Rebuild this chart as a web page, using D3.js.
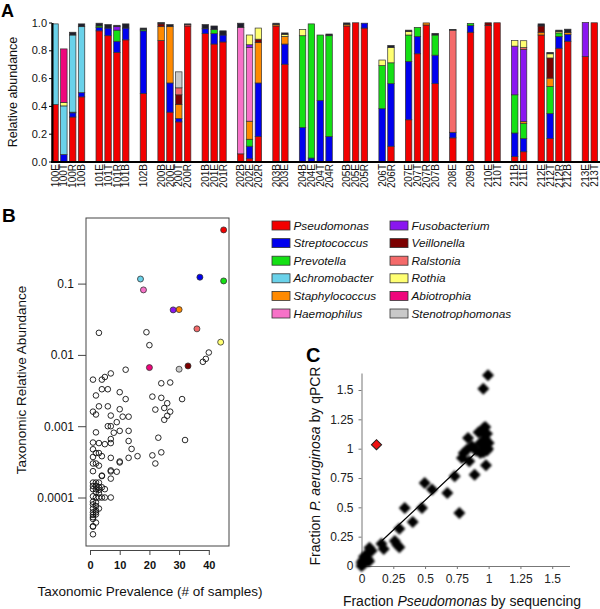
<!DOCTYPE html>
<html><head><meta charset="utf-8">
<script src="https://cdn.jsdelivr.net/npm/d3@7"></script>
<style>body{margin:0;background:#fff} svg{display:block;font-family:"Liberation Sans",Arial,Helvetica,sans-serif}</style>
</head><body><svg id="chart" width="600" height="609"></svg>
<script>
// ---------------- Panel A data ----------------
const samples = [
 "100E","100T","100R","100B", "101E","101T","101R","101B", "102B",
 "200B","200E","200T","200R", "201B","201E","201R", "202B","202E","202R",
 "203B","203E", "204B","204E","204T","204R", "205B","205E","205R", "206T","206R",
 "207E","207T","207R","207B", "208E", "209B", "210E","210T", "211B","211E",
 "212E","212T","212R","212B", "213E","213T"];
const taxa = ["Pseudomonas","Streptococcus","Prevotella","Achromobacter","Staphylococcus","Haemophilus",
 "Fusobacterium","Veillonella","Ralstonia","Rothia","Abiotrophia","Stenotrophomonas","Other"];
const taxonColors = ["#f20000","#0000ee","#14e014","#6ad2ea","#ff8a00","#f772c8",
 "#8a16f0","#7c0000","#f46a6a","#ffff72","#ef067c","#c9c9c9","#1e1e2c"];
const yTicksA = [0,0.2,0.4,0.6,0.8,1.0];
// values per sample (same order as samples), grouped by patient
const pseudomonas = [0.41,0,0.32,0.465, 0.94,0.905,0.785,0.875, 0.49, 0.87,0.355,0.285,0.975, 0.92,0.845,0.86, 0.055,0.02,0.18, 0.975,0.70, 0,0,0,0, 0.975,0.998,0.96, 0,0.11, 0.30,0.775,0.982,0.56, 0.17, 0.93, 0.978,0.998, 0.035,0.07, 0.91,0.165,0.815,0.865, 0.755,0.998];
const streptococcus = [0,0.05,0.03,0.03, 0.025,0.055,0.08,0.085, 0.45, 0,0.21,0.025,0, 0.035,0.075,0.05, 0,0.09,0.385, 0,0.145, 0.245,0.025,0.44,0.18, 0,0,0.035, 0.38,0.45, 0.42,0.125,0,0.205, 0.04, 0.048, 0,0, 0.17,0.095, 0,0.18,0.085,0.05, 0,0];
const prevotella = [0,0,0.005,0, 0.01,0,0.08,0, 0.01, 0,0,0,0, 0,0.03,0, 0,0.05,0, 0,0, 0.66,0.965,0.47,0.725, 0,0,0, 0.31,0.15, 0.19,0.065,0,0.145, 0, 0.015, 0,0, 0.275,0.11, 0,0.195,0.025,0, 0,0];
const achromobacter = [0.58,0.35,0.555,0.475, 0,0,0,0, 0, 0,0,0,0, 0,0,0, 0,0,0, 0,0, 0,0,0,0, 0,0,0, 0,0, 0,0,0,0, 0, 0, 0,0, 0,0, 0,0,0,0, 0,0];
const staphylococcus = [0,0,0,0, 0,0,0,0, 0, 0.10,0.405,0.10,0, 0,0,0, 0,0.13,0.29, 0.01,0.055, 0,0,0,0, 0.012,0,0, 0,0, 0,0,0.015,0, 0, 0, 0,0, 0,0.012, 0.02,0.06,0,0.012, 0,0];
const haemophilus = [0,0,0,0, 0,0,0,0, 0, 0,0,0,0, 0,0,0, 0.91,0.53,0, 0,0, 0,0,0,0, 0,0,0, 0,0, 0,0,0,0, 0, 0, 0,0, 0,0, 0,0,0,0, 0,0];
const fusobacterium = [0,0,0,0, 0,0,0.025,0, 0, 0,0,0,0, 0,0,0, 0,0.02,0, 0,0, 0,0,0,0, 0,0,0, 0,0, 0,0,0,0, 0, 0, 0,0, 0.35,0.52, 0,0,0,0, 0.245,0];
const veillonella = [0,0,0,0, 0,0,0,0, 0, 0.02,0,0.07,0, 0,0,0, 0,0,0.025, 0,0, 0,0,0,0, 0,0,0, 0,0, 0,0,0,0, 0, 0, 0.02,0, 0,0, 0.045,0.145,0,0, 0,0];
const ralstonia = [0,0,0,0, 0,0,0,0, 0, 0,0,0.05,0.01, 0,0,0, 0,0,0, 0,0, 0,0,0,0, 0,0,0, 0,0, 0,0,0,0, 0.735, 0, 0,0, 0,0.012, 0,0,0,0, 0,0];
const rothia = [0,0.025,0,0, 0,0,0,0, 0, 0,0,0,0, 0,0,0, 0,0.07,0.08, 0,0.015, 0.045,0,0,0, 0,0,0, 0.04,0.11, 0.025,0,0,0, 0, 0, 0,0, 0.04,0.05, 0,0.03,0.01,0, 0,0];
const abiotrophia = [0,0.385,0,0, 0,0,0,0, 0, 0,0,0,0, 0,0,0, 0,0,0, 0,0, 0,0,0,0, 0,0,0, 0,0, 0,0,0,0, 0, 0, 0,0, 0,0, 0,0,0,0, 0,0];
const stenotrophomonas = [0,0,0,0, 0,0,0,0, 0, 0,0,0.115,0, 0,0,0, 0,0,0, 0,0, 0,0,0,0, 0,0,0, 0,0, 0,0,0,0, 0, 0, 0,0, 0,0, 0,0,0,0, 0,0];
const other = [0,0,0.02,0.02, 0.02,0.025,0.01,0.03, 0.01, 0.01,0.015,0,0.005, 0.03,0.025,0.03, 0.03,0,0, 0.01,0.01, 0,0,0,0.012, 0.01,0,0, 0,0.015, 0.01,0,0,0.012, 0.005, 0, 0,0, 0,0, 0.015,0.01,0.01,0.025, 0,0];
const seriesValues = [pseudomonas,streptococcus,prevotella,achromobacter,staphylococcus,haemophilus,
 fusobacterium,veillonella,ralstonia,rothia,abiotrophia,stenotrophomonas,other];

// ---------------- Panel B data ----------------
const legendTaxa = taxa.slice(0, 12);
const topPrevalence = [45,37,45,17,30,18,28,33,36,44,20,30];
const topAbundance = [0.566,0.123,0.109,0.116,0.0432,0.0816,0.0428,0.0070,0.0232,0.0151,0.00664,0.0063];
const otherPrevalence = [3,19,20,38,39,40,12, 1,4,5,7,24,27, 2,4,6,10,12,21,24,31, 26,25,27, 3,6,1,2,10,7,22,26,11,13,
 25,9,6,7, 2,10,13,8, 1,3,5,7,13,7,23,32, 1,14,2,3,4,1,7,13,16,21,24, 22,10,10,1,2,3,
 1,7,7,9, 4,4,7, 1,2,3,1,2,3,4, 1,2,3,5,2,3, 1,4,5,7,2,3, 1,2,1,2,3,1,2, 1,2,1,2,1,1,2,1,1,1];
const otherAbundance = [0.0204,0.0208,0.0137,0.0080,0.0088,0.0108,0.0062, 0.0045,0.0045,0.0049,0.0055,0.0040,0.0041,
 0.0027,0.0033,0.0033,0.0030,0.0024,0.0026,0.0025,0.0024, 0.0021,0.0018,0.0016,
 0.0019,0.0019,0.0016,0.00146,0.00173,0.00141,0.00171,0.0014,0.00136,0.00136,
 0.00123,0.00114,0.0010,0.0010, 0.00082,0.00086,0.00086,0.00081,
 0.00059,0.00058,0.00056,0.00058,0.00062,0.00066,0.00069,0.00064,
 0.000475,0.00048,0.00042,0.00042,0.00038,0.00037,0.00036,0.00036,0.00038,0.00039,0.00043,
 0.0003,0.00032,0.00031,0.0003,0.0003,0.00028,
 0.000234,0.00024,0.000232,0.00023, 0.000203,0.0002,0.000184,
 0.000162,0.000162,0.000162,0.000145,0.000147,0.00014,0.000139,
 0.000131,0.000131,0.000128,0.000131,0.000119,0.000115,
 0.000104,0.0001,0.0001,0.0001,0.0001,0.0001,
 0.000087,0.000085,0.00008,0.000076,0.00007,0.00007,0.000066,
 0.000062,0.000062,0.000057,0.000058,0.000053,0.00005,0.0000445,0.0000395,0.000039,0.0000305];
const yTicksB = [0.1,0.01,0.001,0.0001];
const xTicksB = [0,10,20,30,40];

// ---------------- Panel C data ----------------
const seqFraction = [0.995,0.958,0.961,0.974,0.948,0.987,0.921,1.0,0.935,0.961,0.987,0.935,0.90,0.869,0.838,0.83,0.804,0.79,0.848,0.979,
 0.89,0.733,0.497,0.555,0.675,0.34,0.476,0.77,0.403,0.298,0.262,0.28,0.298,0.157,0.175,0.063,0.08,0.04,0.02,0.05,
 0.01,0.03,0.0,0.01,0.02,0.06,0.0,0.975,0.995,0.96];
const qpcrFraction = [1.625,1.511,1.176,1.185,1.139,1.128,1.139,1.048,1.048,1.02,0.985,0.963,0.985,1.02,1.091,0.991,0.963,0.92,0.892,0.858,
 0.778,0.764,0.707,0.651,0.622,0.494,0.494,0.452,0.375,0.318,0.213,0.182,0.159,0.19,0.145,0.155,0.13,0.1,0.08,0.06,
 0.05,0.03,0.0,0.01,0.02,0.04,0.03,1.08,1.0,0.97];
const outlierSeq = [0.118];
const outlierQpcr = [1.034];
const fitSeq = [0.16, 0.9];
const fitQpcr = [0.215, 0.965];
const ticksC = [0,0.25,0.5,0.75,1,1.25,1.5];

// =============== drawing ===============
const svg = d3.select("#chart");
const FONT = '"Liberation Sans",Arial,Helvetica,sans-serif';

// ---- Panel A ----
const slots = [];
samples.forEach((s, i) => {
  if (i > 0 && s.slice(0,3) !== samples[i-1].slice(0,3)) slots.push("gap" + i);
  slots.push(s);
});
const xA = d3.scaleBand().domain(slots).range([50.6, 598.7]).paddingInner(0.27).paddingOuter(0.135);
const yA = d3.scaleLinear().domain([0, 1]).range([161.5, 22.5]);

const tableA = samples.map((s, i) => {
  const row = {sample: s};
  taxa.forEach((t, k) => row[t] = seriesValues[k][i]);
  return row;
});
const stackA = d3.stack().keys(taxa)(tableA);
const gA = svg.append("g");
stackA.forEach((layer, k) => {
  gA.append("g").attr("fill", taxonColors[k])
    .selectAll("rect").data(layer.filter(d => d[1] - d[0] > 0)).join("rect")
    .attr("x", d => xA(d.data.sample))
    .attr("width", xA.bandwidth())
    .attr("y", d => yA(d[1]))
    .attr("height", d => yA(d[0]) - yA(d[1]))
    .attr("stroke", "#333").attr("stroke-width", 0.7);
});
const axA = svg.append("g").attr("transform", "translate(52,0)")
  .call(d3.axisLeft(yA).tickValues(yTicksA).tickFormat(d3.format(".1f")).tickSize(3).tickPadding(2).tickSizeOuter(0));
axA.select(".domain").attr("stroke-width", 2).attr("stroke", "#000");
axA.selectAll("text").attr("font-size", 11).attr("font-family", FONT).attr("fill", "#111");
svg.append("line").attr("x1", 51).attr("x2", 600).attr("y1", yA(0) + 0.5).attr("y2", yA(0) + 0.5)
  .attr("stroke", "#000").attr("stroke-width", 2);
svg.append("g").selectAll("text").data(samples).join("text")
  .attr("transform", d => `translate(${xA(d) + xA.bandwidth()/2 + 3.6},164) rotate(-90)`)
  .attr("text-anchor", "end").attr("font-size", 10).attr("fill", "#111").text(d => d);
svg.append("text").attr("transform", "translate(17,92) rotate(-90)").attr("text-anchor", "middle")
  .attr("font-size", 12.5).attr("fill", "#111").text("Relative abundance");
svg.append("text").attr("x", 1).attr("y", 17).attr("font-size", 18).attr("font-weight", "bold").text("A");

// ---- Panel B ----
const xB = d3.scaleLinear().domain([-1.35, 46.8]).range([86, 229]);
const yB = d3.scaleLog().domain([Math.pow(10, -4.68), Math.pow(10, -0.08)]).range([546, 218]);
svg.append("rect").attr("x", 86).attr("y", 218).attr("width", 143).attr("height", 328)
  .attr("fill", "none").attr("stroke", "#444").attr("stroke-width", 1);
const axBy = svg.append("g").attr("transform", "translate(86,0)")
  .call(d3.axisLeft(yB).tickValues(yTicksB).tickFormat(d => String(d)).tickSize(8).tickPadding(4));
axBy.select(".domain").remove();
axBy.selectAll("line").attr("stroke", "#444");
axBy.selectAll("text").attr("font-size", 12).attr("font-family", FONT).attr("fill", "#111");
const xBaxisScale = xB.copy().domain([0, 40]).range([xB(0), xB(40)]);
const axBx = svg.append("g").attr("transform", "translate(0,550)")
  .call(d3.axisBottom(xBaxisScale).tickValues(xTicksB).tickSize(5).tickSizeOuter(0).tickPadding(6));
axBx.selectAll("line,path").attr("stroke", "#444");
axBx.selectAll("text").attr("font-size", 11).attr("font-weight", "bold").attr("font-family", FONT).attr("fill", "#111");
svg.append("g").selectAll("circle").data(otherPrevalence.map((p, i) => [p, otherAbundance[i]])).join("circle")
  .attr("cx", d => xB(d[0])).attr("cy", d => yB(d[1])).attr("r", 2.8)
  .attr("fill", "none").attr("stroke", "#111").attr("stroke-width", 0.9);
svg.append("g").selectAll("circle").data(legendTaxa.map((t, i) => i)).join("circle")
  .attr("cx", i => xB(topPrevalence[i])).attr("cy", i => yB(topAbundance[i])).attr("r", 3)
  .attr("fill", i => taxonColors[i]).attr("stroke", "#333").attr("stroke-width", 0.8);
svg.append("text").attr("transform", "translate(26,380) rotate(-90)").attr("text-anchor", "middle")
  .attr("font-size", 13.5).attr("fill", "#111").text("Taxonomic Relative Abundance");
svg.append("text").attr("x", 150).attr("y", 596).attr("text-anchor", "middle")
  .attr("font-size", 13.5).attr("fill", "#111").text("Taxonomic Prevalence (# of samples)");
svg.append("text").attr("x", 2).attr("y", 222).attr("font-size", 19).attr("font-weight", "bold").text("B");

// Legend
const legend = svg.append("g");
legendTaxa.forEach((t, i) => {
  const col = Math.floor(i / 6), row = i % 6;
  const x = col === 0 ? 272 : 390, y = 221 + row * 17.6;
  legend.append("rect").attr("x", x).attr("y", y).attr("width", 18).attr("height", 9)
    .attr("fill", taxonColors[i]).attr("stroke", "#333").attr("stroke-width", 0.8);
  legend.append("text").attr("x", x + 21.5).attr("y", y + 8.5).attr("font-size", 11.8)
    .attr("font-style", "italic").attr("fill", "#111").text(t);
});

// ---- Panel C ----
const xC = d3.scaleLinear().domain([0, 1.636]).range([361.5, 569.5]);
const yC = d3.scaleLinear().domain([0, 1.645]).range([566, 373]);
const axCy = svg.append("g").attr("transform", "translate(361.5,0)")
  .call(d3.axisLeft(yC).tickValues(ticksC).tickFormat(d => String(d)).tickSize(3).tickPadding(5).tickSizeOuter(0));
const axCx = svg.append("g").attr("transform", "translate(0,566)")
  .call(d3.axisBottom(xC).tickValues(ticksC).tickFormat(d => String(d)).tickSize(3).tickPadding(5).tickSizeOuter(0));
[axCy, axCx].forEach(a => {
  a.selectAll("line,path").attr("stroke", "#777");
  a.selectAll("text").attr("font-size", 12).attr("font-family", FONT).attr("fill", "#222");
});
const defs = svg.append("defs");
defs.append("filter").attr("id", "soft").attr("x", "-50%").attr("y", "-50%").attr("width", "200%").attr("height", "200%")
  .append("feGaussianBlur").attr("stdDeviation", 0.8);
const fitLine = d3.line().x(d => xC(d[0])).y(d => yC(d[1]));
svg.append("path").attr("d", fitLine(fitSeq.map((s, i) => [s, fitQpcr[i]])))
  .attr("stroke", "#000").attr("stroke-width", 1.2).attr("fill", "none");
const diamond = d3.symbol().type(d3.symbolSquare).size(72);
svg.append("g").attr("filter", "url(#soft)").selectAll("path")
  .data(seqFraction.map((s, i) => [s, qpcrFraction[i]])).join("path")
  .attr("d", diamond)
  .attr("transform", d => `translate(${xC(d[0])},${yC(d[1])}) rotate(45)`)
  .attr("fill", "#000");
svg.append("g").selectAll("path").data(outlierSeq.map((s, i) => [s, outlierQpcr[i]])).join("path")
  .attr("d", d3.symbol().type(d3.symbolSquare).size(52))
  .attr("transform", d => `translate(${xC(d[0])},${yC(d[1])}) rotate(45)`)
  .attr("fill", "#ee1111").attr("stroke", "#222").attr("stroke-width", 1);
const yLabC = svg.append("text").attr("transform", "translate(320,466) rotate(-90)").attr("text-anchor", "middle")
  .attr("font-size", 14).attr("fill", "#111");
yLabC.append("tspan").text("Fraction ");
yLabC.append("tspan").attr("font-style", "italic").text("P. aeruginosa");
yLabC.append("tspan").text(" by qPCR");
const xLabC = svg.append("text").attr("x", 462).attr("y", 606).attr("text-anchor", "middle")
  .attr("font-size", 14).attr("fill", "#111");
xLabC.append("tspan").text("Fraction ");
xLabC.append("tspan").attr("font-style", "italic").text("Pseudomonas");
xLabC.append("tspan").text(" by sequencing");
svg.append("text").attr("x", 306).attr("y", 362).attr("font-size", 20).attr("font-weight", "bold").text("C");
</script></body></html>
